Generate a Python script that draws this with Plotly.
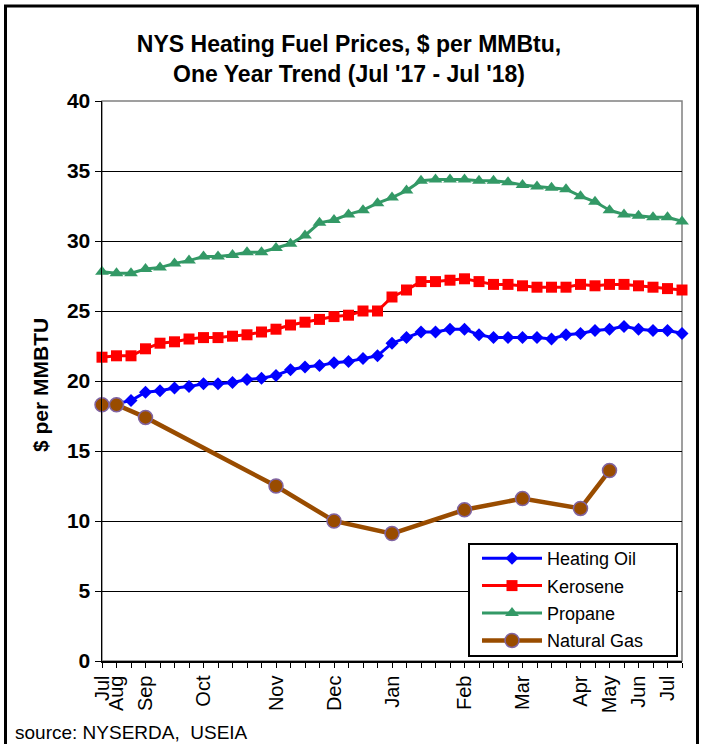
import plotly.graph_objects as go

# ---- data (weekly/bi-weekly observations, Jul '17 - Jul '18) ----
n_obs = 41
week_index = list(range(n_obs))

heating_oil = [18.3, 18.4, 18.6, 19.2, 19.3, 19.5, 19.6, 19.8, 19.8, 19.9,
               20.1, 20.2, 20.4, 20.8, 21.0, 21.1, 21.3, 21.4, 21.6, 21.8,
               22.7, 23.1, 23.5, 23.5, 23.7, 23.7, 23.3, 23.1, 23.1, 23.1,
               23.1, 23.0, 23.3, 23.4, 23.6, 23.7, 23.9, 23.7, 23.6, 23.6,
               23.4]
kerosene = [21.7, 21.8, 21.8, 22.3, 22.7, 22.8, 23.0, 23.1, 23.1, 23.2,
            23.3, 23.5, 23.7, 24.0, 24.2, 24.4, 24.6, 24.7, 25.0, 25.0,
            26.0, 26.5, 27.1, 27.1, 27.2, 27.3, 27.1, 26.9, 26.9, 26.8,
            26.7, 26.7, 26.7, 26.9, 26.8, 26.9, 26.9, 26.8, 26.7, 26.6,
            26.5]
propane = [27.8, 27.7, 27.7, 28.0, 28.1, 28.4, 28.6, 28.9, 28.9, 29.0,
           29.2, 29.2, 29.5, 29.8, 30.4, 31.3, 31.5, 31.9, 32.2, 32.7,
           33.1, 33.6, 34.3, 34.4, 34.4, 34.4, 34.3, 34.3, 34.2, 34.0,
           33.9, 33.8, 33.7, 33.2, 32.8, 32.2, 31.9, 31.8, 31.7, 31.7,
           31.4]
nat_gas_index = [0, 1, 3, 12, 16, 20, 25, 29, 33, 35]
nat_gas = [18.3, 18.3, 17.4, 12.5, 10.0, 9.1, 10.8, 11.6, 10.9, 13.6]

month_labels = ["Jul", "Aug", "Sep", "Oct", "Nov", "Dec", "Jan", "Feb",
                "Mar", "Apr", "May", "Jun", "Jul"]
month_label_index = [0, 1, 3, 7, 12, 16, 20, 25, 29, 33, 35, 37, 39]

y_ticks = [0, 5, 10, 15, 20, 25, 30, 35, 40]

# ---- figure ----
FONT = "Liberation Sans, Arial, sans-serif"
OFF = 0                      # page body margin removed by post_script
W, H = 702 - OFF, 744 - OFF
ML, MT = 102 - OFF, 101 - OFF
MR = W - (682 - OFF)
MB = H - (661 - OFF)
PW, PH = W - ML - MR, H - MT - MB


def px_x(p):
    return (p - OFF - ML) / PW


def px_y(p):
    return (H - MB - (p - OFF)) / PH


ticktext = [""] * n_obs
for lab, idx in zip(month_labels, month_label_index):
    ticktext[idx] = lab

fig = go.Figure()
fig.add_trace(go.Scatter(
    x=week_index, y=heating_oil, name="Heating Oil", mode="lines+markers",
    legendgroup="g1",
    line=dict(color="#0000FF", width=3),
    marker=dict(symbol="diamond", size=10, color="#0000FF", line=dict(width=0)),
    cliponaxis=False))
fig.add_trace(go.Scatter(
    x=week_index, y=kerosene, name="Kerosene", mode="lines+markers",
    legendgroup="g2",
    line=dict(color="#FF0000", width=3),
    marker=dict(symbol="square", size=11, color="#FF0000", line=dict(width=0)),
    cliponaxis=False))
fig.add_trace(go.Scatter(
    x=week_index, y=propane, name="Propane", mode="lines+markers",
    legendgroup="g3",
    line=dict(color="#339966", width=3),
    marker=dict(symbol="triangle-up", size=12, color="#339966", line=dict(width=0)),
    cliponaxis=False))
fig.add_trace(go.Scatter(
    x=nat_gas_index, y=nat_gas, name="Natural Gas", mode="lines+markers",
    legendgroup="g4",
    line=dict(color="#994C00", width=4.5),
    marker=dict(symbol="circle", size=14, color="#994C00",
                line=dict(color="#8064A2", width=1.5)),
    connectgaps=True, cliponaxis=False))

fig.update_layout(
    width=W, height=H,
    margin=dict(l=ML, r=MR, t=MT, b=MB),
    paper_bgcolor="white", plot_bgcolor="white",
    font=dict(family=FONT, color="black"),
    title=dict(
        text="NYS Heating Fuel Prices, $ per MMBtu,<br>One Year Trend (Jul '17 - Jul '18)",
        x=(349 - OFF) / W, xanchor="center", xref="container",
        y=1 - (52 - OFF) / H, yanchor="top", yref="container",
        font=dict(family=FONT, size=23, weight="bold", color="black")),
    xaxis=dict(
        range=[0, n_obs - 1], tickmode="array", tickvals=week_index, ticktext=ticktext,
        tickangle=-90, ticks="outside", ticklen=5, tickcolor="black", tickwidth=1,
        tickfont=dict(family=FONT, size=20, color="black"),
        showgrid=False, showline=True, linecolor="black", linewidth=1.5,
        zeroline=False, fixedrange=True),
    yaxis=dict(
        range=[0, 40], tickmode="array", tickvals=y_ticks,
        ticks="outside", ticklen=6, tickcolor="black", tickwidth=1,
        tickfont=dict(family=FONT, size=21, weight="bold", color="black"),
        showgrid=True, gridcolor="black", gridwidth=1,
        showline=True, linecolor="black", linewidth=1.5,
        zeroline=False, fixedrange=True),
    legend=dict(
        x=px_x(477), y=px_y(540), xanchor="left", yanchor="top",
        bgcolor="rgba(0,0,0,0)", borderwidth=0,
        font=dict(family=FONT, size=18, color="black"),
        itemwidth=60, tracegroupgap=1),
    showlegend=True,
)

# plot-area border (gray top & right)
fig.add_shape(type="rect", xref="paper", yref="paper", x0=0, y0=0, x1=1, y1=1,
              line=dict(color="#808080", width=1.5), layer="below")
# legend box
fig.add_shape(type="rect", xref="paper", yref="paper",
              x0=px_x(469), x1=px_x(677), y0=px_y(656), y1=px_y(544),
              fillcolor="white", line=dict(color="black", width=2), layer="above")
# outer chart border
fig.add_shape(type="rect", xref="paper", yref="paper",
              x0=px_x(5.5), x1=px_x(697.5), y0=px_y(770), y1=px_y(6),
              line=dict(color="black", width=3), layer="above")

fig.add_annotation(text="$ per MMBTU", textangle=-90, xref="paper", yref="paper",
                   x=px_x(40), y=px_y(385), xanchor="center", yanchor="middle",
                   showarrow=False,
                   font=dict(family=FONT, size=21, weight="bold", color="black"))
fig.add_annotation(text="source: NYSERDA,&nbsp; USEIA", xref="paper", yref="paper",
                   x=px_x(13), y=px_y(732), xanchor="left", yanchor="middle",
                   showarrow=False,
                   font=dict(family=FONT, size=19, color="black"))

fig.write_html("out.html",
               config={"displayModeBar": False, "staticPlot": True},
               post_script="document.body.style.margin='0px';document.body.style.overflow='hidden';")
